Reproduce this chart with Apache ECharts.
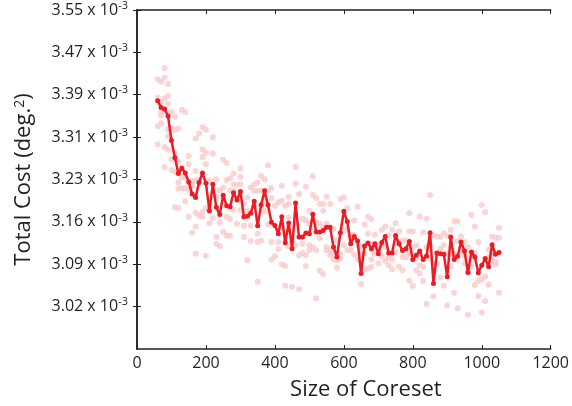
<!DOCTYPE html>
<html>
<head>
<meta charset="utf-8">
<script src="https://cdn.jsdelivr.net/npm/echarts@6/dist/echarts.min.js"></script>
<style>
  html, body { margin: 0; padding: 0; background: #fff; }
  #chart { width: 572px; height: 406px; }
</style>
</head>
<body>
<div id="chart"></div>
<script>
// coreset sizes of the mean curve
var coresetSizes = [
  60, 70, 80, 90, 100, 110, 120, 130, 140, 150, 160, 170, 180, 190, 200, 210, 220, 230, 240, 250,
  260, 270, 280, 290, 300, 310, 320, 330, 340, 350, 360, 370, 380, 390, 400, 410, 420, 430, 440, 450,
  460, 470, 480, 490, 500, 510, 520, 530, 540, 550, 560, 570, 580, 590, 600, 610, 620, 630, 640, 650,
  660, 670, 680, 690, 700, 710, 720, 730, 740, 750, 760, 770, 780, 790, 800, 810, 820, 830, 840, 850,
  860, 870, 880, 890, 900, 910, 920, 930, 940, 950, 960, 970, 980, 990, 1000, 1010, 1020, 1030, 1040, 1050
]

// mean total cost (x 10^-3)
var meanCost = [
  3.3878, 3.3759, 3.3730, 3.3606, 3.3168, 3.2861, 3.2578, 3.2672, 3.2588, 3.2429,
  3.2211, 3.2152, 3.2418, 3.2588, 3.2406, 3.1915, 3.2388, 3.1975, 3.1844, 3.2188,
  3.2003, 3.1986, 3.2234, 3.2104, 3.2259, 3.1808, 3.1815, 3.1869, 3.2081, 3.1643,
  3.2021, 3.2269, 3.2016, 3.1709, 3.1649, 3.1501, 3.1808, 3.1342, 3.1696, 3.1235,
  3.2051, 3.1443, 3.1443, 3.1514, 3.1501, 3.1851, 3.1532, 3.1532, 3.1560, 3.1620,
  3.1620, 3.1266, 3.1088, 3.1519, 3.1904, 3.1720, 3.1324, 3.1454, 3.1372, 3.0792,
  3.1283, 3.1337, 3.1235, 3.1324, 3.1147, 3.1347, 3.1454, 3.1159, 3.1159, 3.1471,
  3.1324, 3.1205, 3.1235, 3.1365, 3.1040, 3.1117, 3.1195, 3.1040, 3.1106, 3.1519,
  3.0615, 3.1159, 3.1147, 3.1134, 3.0734, 3.1443, 3.1040, 3.1099, 3.1354, 3.1195,
  3.0810, 3.1177, 3.1088, 3.0805, 3.0939, 3.1058, 3.0911, 3.1306, 3.1134, 3.1165
]

// individual runs [size, cost]
var trialRuns = [
  [60, 3.4262], [60, 3.3936], [60, 3.3422], [60, 3.3097],
  [70, 3.4220], [70, 3.3854], [70, 3.3688], [70, 3.3617], [70, 3.3475],
  [80, 3.4457], [80, 3.4291], [80, 3.3925], [80, 3.3700], [80, 3.3050], [80, 3.2695],
  [90, 3.4179], [90, 3.3966], [90, 3.3824], [90, 3.3363], [90, 3.3245], [90, 3.3003],
  [100, 3.3676], [100, 3.3393], [100, 3.2831], [100, 3.2642],
  [110, 3.3594], [110, 3.3357], [110, 3.2943], [110, 3.2612], [110, 3.1974],
  [120, 3.3381], [120, 3.2790], [120, 3.2417], [120, 3.2311], [120, 3.1962],
  [130, 3.3718], [130, 3.2684], [130, 3.2506], [130, 3.2317],
  [140, 3.3676], [140, 3.2506], [140, 3.2317], [140, 3.2081],
  [150, 3.2890], [150, 3.2742], [150, 3.2299], [150, 3.1808],
  [160, 3.2358], [160, 3.2447], [160, 3.1519],
  [170, 3.3204], [170, 3.2624], [170, 3.2447], [170, 3.1879], [170, 3.1631], [170, 3.1147],
  [180, 3.3292], [180, 3.2465], [180, 3.1832],
  [190, 3.3410], [190, 3.3009], [190, 3.2873], [190, 3.1891], [190, 3.1808],
  [200, 3.3363], [200, 3.2950], [200, 3.2742], [200, 3.1962], [200, 3.1111],
  [210, 3.2447], [210, 3.1915], [210, 3.1690],
  [220, 3.3227], [220, 3.2938], [220, 3.1785],
  [230, 3.2477], [230, 3.2163], [230, 3.1442], [230, 3.1324],
  [240, 3.2281], [240, 3.1702], [240, 3.1277],
  [250, 3.2825], [250, 3.2329], [250, 3.2140], [250, 3.1537],
  [260, 3.2766], [260, 3.2459], [260, 3.1808], [260, 3.1466],
  [270, 3.2494], [270, 3.2281], [270, 3.1767], [270, 3.1466],
  [280, 3.2577], [280, 3.2388], [280, 3.2270], [280, 3.1927],
  [290, 3.2376], [290, 3.1679],
  [300, 3.2666], [300, 3.2518], [300, 3.2388], [300, 3.2093], [300, 3.1927],
  [310, 3.2034], [310, 3.1643], [310, 3.1443],
  [320, 3.2152], [320, 3.1915], [320, 3.1029],
  [330, 3.2329], [330, 3.1649], [330, 3.1372],
  [340, 3.2388], [340, 3.2270], [340, 3.2004],
  [350, 3.2418], [350, 3.2270], [350, 3.1502], [350, 3.1354], [350, 3.0645],
  [360, 3.2536], [360, 3.2270], [360, 3.1383],
  [370, 3.2477], [370, 3.2093], [370, 3.1915],
  [380, 3.2725], [380, 3.2270], [380, 3.1667],
  [390, 3.2317], [390, 3.2140], [390, 3.1354], [390, 3.1041],
  [400, 3.2004], [400, 3.1100],
  [410, 3.2063], [410, 3.1354], [410, 3.1236],
  [420, 3.2358], [420, 3.2093], [420, 3.1620], [420, 3.0958],
  [430, 3.2004], [430, 3.0928], [430, 3.0574],
  [440, 3.2164], [440, 3.2034], [440, 3.1797], [440, 3.1277],
  [450, 3.1354], [450, 3.0556],
  [460, 3.2695], [460, 3.2400], [460, 3.1679], [460, 3.1295],
  [470, 3.2211], [470, 3.1117], [470, 3.0509],
  [480, 3.1768], [480, 3.1324], [480, 3.1159],
  [490, 3.2341], [490, 3.1738], [490, 3.1117], [490, 3.0928],
  [500, 3.1915], [500, 3.1679], [500, 3.1295], [500, 3.1206],
  [510, 3.2530], [510, 3.2199], [510, 3.1590], [510, 3.1265],
  [520, 3.2140], [520, 3.1708], [520, 3.1206], [520, 3.0349],
  [530, 3.2034], [530, 3.1679], [530, 3.1425], [530, 3.0840],
  [540, 3.2034], [540, 3.1915], [540, 3.1620], [540, 3.0781],
  [550, 3.2164], [550, 3.1679], [550, 3.1265], [550, 3.1206],
  [560, 3.2034], [560, 3.1206], [560, 3.1117],
  [570, 3.1590], [570, 3.1147], [570, 3.1041],
  [580, 3.1383], [580, 3.1029], [580, 3.0899],
  [590, 3.2122], [590, 3.1147], [590, 3.1058],
  [600, 3.2152], [600, 3.1561], [600, 3.1295],
  [610, 3.1963], [610, 3.1590], [610, 3.1206],
  [620, 3.1472], [620, 3.1413], [620, 3.1206],
  [630, 3.1738], [630, 3.1484], [630, 3.1129],
  [640, 3.1986], [640, 3.1295], [640, 3.1041],
  [650, 3.1265], [650, 3.1147], [650, 3.0603],
  [660, 3.1667], [660, 3.1159], [660, 3.0863],
  [670, 3.1809], [670, 3.1502], [670, 3.0881],
  [680, 3.1762], [680, 3.1324], [680, 3.1041], [680, 3.0911],
  [690, 3.1484], [690, 3.1265], [690, 3.1147],
  [700, 3.1295], [700, 3.1206], [700, 3.0970],
  [710, 3.1573], [710, 3.1295], [710, 3.1100],
  [720, 3.1632], [720, 3.1265], [720, 3.1017],
  [730, 3.1472], [730, 3.1076], [730, 3.0940],
  [740, 3.1573], [740, 3.1041], [740, 3.0863],
  [750, 3.1691], [750, 3.1454], [750, 3.1176],
  [760, 3.1549], [760, 3.1354], [760, 3.0911],
  [770, 3.1383], [770, 3.1088], [770, 3.0852],
  [780, 3.1383], [780, 3.1206], [780, 3.1076],
  [790, 3.1868], [790, 3.1543], [790, 3.1147], [790, 3.0662],
  [800, 3.1543], [800, 3.1265], [800, 3.0568],
  [810, 3.1295], [810, 3.1058], [810, 3.0852],
  [820, 3.1809], [820, 3.0940], [820, 3.0792],
  [830, 3.1531], [830, 3.0911], [830, 3.0656],
  [840, 3.1768], [840, 3.1265], [840, 3.0249],
  [850, 3.2193], [850, 3.1295], [850, 3.1058],
  [860, 3.1472], [860, 3.0970], [860, 3.0379],
  [870, 3.1454], [870, 3.1147], [870, 3.0970],
  [880, 3.1443], [880, 3.1236], [880, 3.0721],
  [890, 3.1513], [890, 3.1295], [890, 3.0574],
  [900, 3.1472], [900, 3.1147], [900, 3.0219],
  [910, 3.1573], [910, 3.1147], [910, 3.0922],
  [920, 3.1726], [920, 3.1147], [920, 3.0450],
  [930, 3.1720], [930, 3.1372], [930, 3.0172],
  [940, 3.1454], [940, 3.1265], [940, 3.1176],
  [950, 3.1354], [950, 3.1117], [950, 3.0970],
  [960, 3.1265], [960, 3.0822], [960, 3.0054],
  [970, 3.1838], [970, 3.1076], [970, 3.0911],
  [980, 3.1632], [980, 3.1159], [980, 3.0586],
  [990, 3.1354], [990, 3.0662], [990, 3.0391],
  [1000, 3.2016], [1000, 3.0686], [1000, 3.0095],
  [1010, 3.1886], [1010, 3.0733], [1010, 3.0302],
  [1020, 3.1218], [1020, 3.1088], [1020, 3.0597],
  [1030, 3.1454], [1030, 3.1147], [1030, 3.1029],
  [1040, 3.1431], [1040, 3.0999], [1040, 3.0958],
  [1050, 3.1608], [1050, 3.1431], [1050, 3.0450]
]

// y ticks are evenly spaced, labels as printed on the figure
var yTickValues = [3.02, 3.0957, 3.1714, 3.2471, 3.3229, 3.3986, 3.4743, 3.55]
var yTickLabels = ['3.02', '3.09', '3.16', '3.23', '3.31', '3.39', '3.47', '3.55']
var yMin = 2.9443
var yMax = 3.55

var fontFamily = '"Open Sans", "Noto Sans", sans-serif'
var textColor = '#231f20'

var chart = echarts.init(document.getElementById('chart'))

var curve = coresetSizes.map(function (s, i) {
    return [s, meanCost[i]]
})

var yLabel = function (v) {
    var best = 0
    yTickValues.forEach(function (t, i) {
        if (Math.abs(t - v) < Math.abs(yTickValues[best] - v)) best = i
    })
    return '{n|' + yTickLabels[best] + ' x 10}{s|-3}'
}

var axisLine = { show: true, lineStyle: { color: '#231f20', width: 1.5 } }
var axisTick = { show: true, inside: true, length: 4, lineStyle: { color: '#231f20', width: 1 } }

var option = {
    animation: false,
    backgroundColor: '#fff',
    textStyle: { fontFamily: fontFamily },
    grid: { left: 137, top: 10, width: 432, height: 341 },
    xAxis: [
        {
            type: 'value',
            min: 0,
            max: 1200,
            interval: 200,
            axisLine: axisLine,
            axisTick: axisTick,
            splitLine: { show: false },
            axisLabel: {
                color: textColor, fontSize: 16, margin: 6, fontFamily: fontFamily,
                formatter: function (v) { return String(v) }
            },
            name: 'Size of Coreset',
            nameLocation: 'middle',
            nameGap: 30,
            nameTextStyle: { color: textColor, fontSize: 22, fontFamily: fontFamily, padding: [0, 0, 0, 44] }
        },
        {
            type: 'value',
            position: 'top',
            min: 0,
            max: 1200,
            interval: 200,
            axisLine: axisLine,
            axisTick: axisTick,
            splitLine: { show: false },
            axisLabel: { show: false }
        }
    ],
    yAxis: [
        {
            type: 'value',
            min: yMin,
            max: yMax,
            axisLine: axisLine,
            axisTick: Object.assign({}, axisTick, { customValues: yTickValues }),
            splitLine: { show: false },
            axisLabel: {
                customValues: yTickValues,
                margin: 9,
                formatter: yLabel,
                rich: {
                    n: { fontSize: 16, color: textColor, fontFamily: fontFamily, lineHeight: 20 },
                    s: { fontSize: 11, color: textColor, fontFamily: fontFamily, lineHeight: 20, verticalAlign: 'top', padding: [0, 0, 6, 0] }
                }
            },
            name: '{n|Total Cost (deg.}{s|2}{n|)}',
            nameLocation: 'middle',
            nameGap: 102,
            nameTextStyle: {
                rich: {
                    n: { fontSize: 22, color: textColor, fontFamily: fontFamily },
                    s: { fontSize: 14, color: textColor, fontFamily: fontFamily, verticalAlign: 'top', padding: [0, 0, 8, 0] }
                }
            }
        },
        {
            type: 'value',
            position: 'right',
            min: yMin,
            max: yMax,
            axisLine: axisLine,
            axisTick: Object.assign({}, axisTick, { customValues: yTickValues }),
            splitLine: { show: false },
            axisLabel: { show: false }
        }
    ],
    series: [
        {
            name: 'runs',
            type: 'scatter',
            data: trialRuns,
            symbol: 'circle',
            symbolSize: 6,
            itemStyle: { color: '#f9caca' },
            silent: true
        },
        {
            name: 'mean',
            type: 'line',
            data: curve,
            symbol: 'circle',
            symbolSize: 5,
            showSymbol: true,
            lineStyle: { color: '#ec1c24', width: 2.5 },
            itemStyle: { color: '#ec1c24' },
            z: 3
        }
    ]
}

chart.setOption(option)
</script>
</body>
</html>
